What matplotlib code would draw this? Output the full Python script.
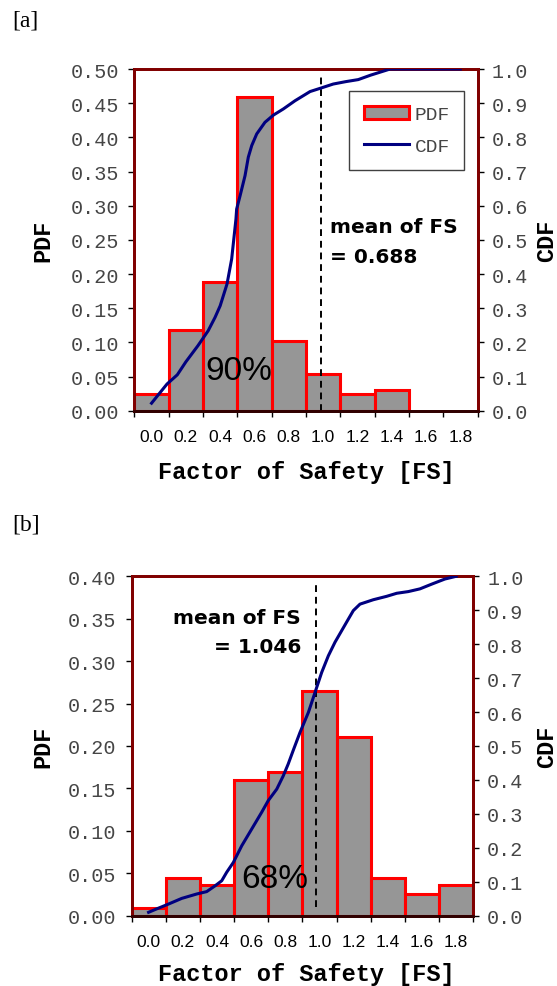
import matplotlib
matplotlib.use('Agg')
import matplotlib.pyplot as plt
from matplotlib.patches import Patch
from matplotlib.lines import Line2D
from matplotlib.font_manager import FontProperties
from matplotlib.ticker import FormatStrFormatter, MultipleLocator

# --- data ---
fs_bins = [0.0, 0.2, 0.4, 0.6, 0.8, 1.0, 1.2, 1.4, 1.6, 1.8]
bin_labels = ['0.0', '0.2', '0.4', '0.6', '0.8', '1.0', '1.2', '1.4', '1.6', '1.8']

pdf_a = [0.024, 0.118, 0.188, 0.459, 0.102, 0.054, 0.024, 0.031, 0.0, 0.0]
cdf_a_fs = [0.0, 0.04, 0.09, 0.15, 0.20, 0.27, 0.33, 0.37, 0.40, 0.44,
            0.467, 0.492, 0.496, 0.516, 0.545, 0.564, 0.584, 0.613, 0.661, 0.71,
            0.768, 0.836, 0.924, 0.986, 1.059, 1.132, 1.205, 1.277, 1.391, 1.8]
cdf_a = [0.022, 0.047, 0.078, 0.105, 0.143, 0.190, 0.234, 0.273, 0.307, 0.371,
         0.444, 0.561, 0.590, 0.629, 0.688, 0.742, 0.776, 0.810, 0.844, 0.865,
         0.883, 0.907, 0.934, 0.944, 0.956, 0.963, 0.969, 0.982, 1.0, 1.0]
mark_a = 0.986

pdf_b = [0.009, 0.045, 0.036, 0.160, 0.169, 0.265, 0.211, 0.045, 0.026, 0.036]
cdf_b_fs = [0.0, 0.047, 0.115, 0.194, 0.282, 0.34, 0.389, 0.428, 0.457, 0.496,
            0.545, 0.603, 0.662, 0.70, 0.75, 0.788, 0.817, 0.847, 0.886, 0.935,
            0.974, 1.013, 1.052, 1.091, 1.13, 1.169, 1.198, 1.237, 1.315, 1.393,
            1.452, 1.52, 1.588, 1.657, 1.734, 1.8]
cdf_b = [0.010, 0.020, 0.034, 0.051, 0.064, 0.071, 0.088, 0.103, 0.128, 0.157,
         0.206, 0.255, 0.305, 0.339, 0.373, 0.412, 0.447, 0.488, 0.540, 0.599,
         0.658, 0.717, 0.766, 0.806, 0.840, 0.874, 0.899, 0.918, 0.931, 0.941,
         0.950, 0.955, 0.963, 0.977, 0.992, 1.0]
mark_b = 0.98

W, H = 557, 987
fig = plt.figure(figsize=(W / 100, H / 100), dpi=100)

mono = 'Liberation Mono'
spine_col = '#800000'
tick_col = '#454545'


def px_axes(l, r, t, b):
    return fig.add_axes([l / W, 1 - b / H, (r - l) / W, (b - t) / H])


def panel(ax, pdf, ymax, cdf_fs, cdf, mark, mark_ymin, tag, tag_y, xlab_y, legend=False):
    lws = [2.2 if h > 0 else 0 for h in pdf]
    ax.bar(fs_bins, pdf, width=0.2, color='#969696', edgecolor='#ff0000',
           linewidth=lws, zorder=2)
    ax.axvline(mark, ymin=mark_ymin, ymax=0.98, color='black', lw=1.4,
               ls=(0, (3.5, 2.5)), zorder=3)
    ax.set_xlim(-0.1, 1.9)
    ax.set_ylim(0, ymax)
    ax.yaxis.set_major_locator(MultipleLocator(0.05))
    ax.yaxis.set_major_formatter(FormatStrFormatter('%.2f'))
    ax.set_xticks(fs_bins)
    ax.set_xticklabels(bin_labels, fontfamily='Liberation Sans', fontsize=12.5)
    ax.set_xticks([x - 0.1 for x in fs_bins] + [1.9], minor=True)
    ax.tick_params(axis='x', which='major', length=0, pad=13)
    ax.tick_params(axis='x', which='minor', length=4, width=1, direction='out')
    ax.tick_params(axis='y', length=4, width=1, pad=7, labelcolor=tick_col)
    for lab in ax.get_yticklabels():
        lab.set_fontfamily(mono)
        lab.set_fontsize(14.5)
    for s in ax.spines.values():
        s.set_color(spine_col)
        s.set_linewidth(2)
    ax.spines['bottom'].set_color('#300000')

    ax2 = ax.twinx()
    ax2.plot(cdf_fs, cdf, color='#000080', lw=2.2, zorder=4)
    ax2.set_ylim(0, 1)
    ax2.yaxis.set_major_locator(MultipleLocator(0.1))
    ax2.yaxis.set_major_formatter(FormatStrFormatter('%.1f'))
    ax2.tick_params(axis='y', length=4, width=1, pad=6, labelcolor=tick_col)
    for lab in ax2.get_yticklabels():
        lab.set_fontfamily(mono)
        lab.set_fontsize(14.5)
    for s in ax2.spines.values():
        s.set_color(spine_col)
        s.set_linewidth(2)
    ax2.spines['bottom'].set_color('#300000')

    if legend:
        handles = [Patch(facecolor='#969696', edgecolor='#ff0000', linewidth=2.2),
                   Line2D([0], [0], color='#000080', lw=2.2)]
        leg = ax2.legend(handles, ['PDF', 'CDF'], loc='upper right',
                         bbox_to_anchor=(0.9615, 0.935), borderaxespad=0,
                         prop=FontProperties(family=mono, size=14), fancybox=False,
                         framealpha=1, edgecolor='#404040', handlelength=2.3,
                         handleheight=0.65, handletextpad=0.3, borderpad=0.75,
                         labelspacing=0.75)
        leg.get_frame().set_linewidth(1)
        for t in leg.get_texts():
            t.set_color(tick_col)

    fig.text(12 / W, 1 - tag_y / H, tag, fontfamily='Liberation Serif',
             fontsize=17, va='top', ha='left')
    fig.text(306.5 / W, 1 - xlab_y / H, 'Factor of Safety [FS]', fontfamily=mono,
             fontweight='bold', fontsize=17, ha='center', va='baseline')
    bb = ax.get_position()
    yc = 1 - (bb.y0 + bb.height / 2)
    fig.text(42.5 / W, 1 - yc, 'PDF', fontfamily=mono, fontweight='bold',
             fontsize=17, rotation=90, ha='center', va='center')
    fig.text(546.7 / W, 1 - yc, 'CDF', fontfamily=mono, fontweight='bold',
             fontsize=17, rotation=90, ha='center', va='center')
    return ax, ax2


ax_a = px_axes(134.4, 477.5, 70, 411.7)
a1, a2 = panel(ax_a, pdf_a, 0.5, cdf_a_fs, cdf_a, mark_a, 0.0, '[a]', 11, 479,
               legend=True)
a1.text(0.569, 0.522, 'mean of FS', transform=a1.transAxes, fontweight='bold',
        fontsize=14.5, ha='left', va='baseline', zorder=5)
a1.text(0.569, 0.434, '= 0.688', transform=a1.transAxes, fontweight='bold',
        fontsize=14.5, ha='left', va='baseline', zorder=5)
a1.text(0.303, 0.093, '90%', transform=a1.transAxes, fontfamily='Liberation Sans',
        fontsize=24, ha='center', va='baseline', zorder=5)

ax_b = px_axes(131.5, 473.3, 577.3, 916.7)
b1, b2 = panel(ax_b, pdf_b, 0.4, cdf_b_fs, cdf_b, mark_b, 0.025, '[b]', 514, 981)
b1.text(0.496, 0.862, 'mean of FS', transform=b1.transAxes, fontweight='bold',
        fontsize=14.5, ha='right', va='baseline', zorder=5)
b1.text(0.496, 0.777, '= 1.046', transform=b1.transAxes, fontweight='bold',
        fontsize=14.5, ha='right', va='baseline', zorder=5)
b1.text(0.418, 0.085, '68%', transform=b1.transAxes, fontfamily='Liberation Sans',
        fontsize=24, ha='center', va='baseline', zorder=5)

fig.savefig('out.png', dpi=100, facecolor='white')
